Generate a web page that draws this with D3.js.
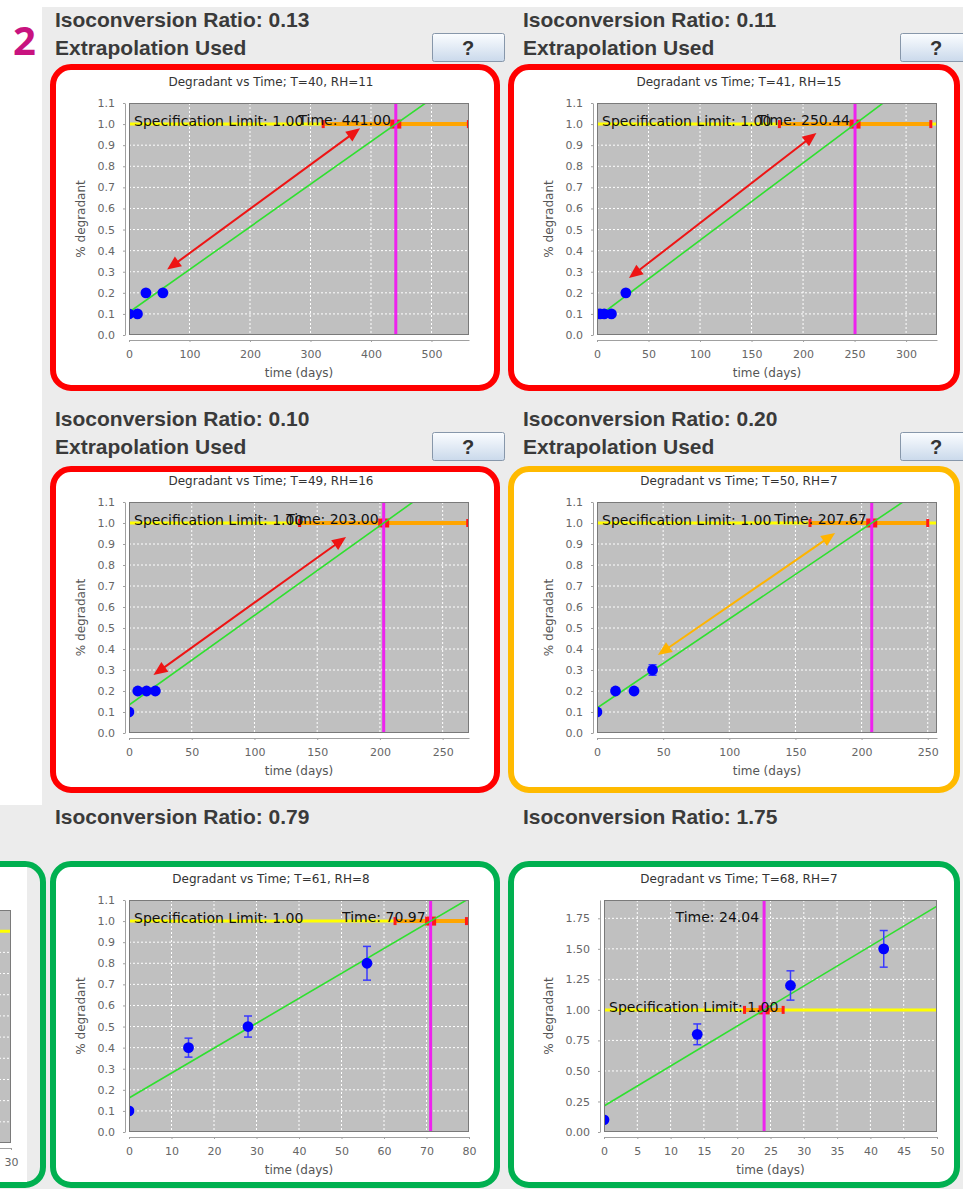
<!DOCTYPE html>
<html>
<head>
<meta charset="utf-8">
<script src="https://cdn.jsdelivr.net/npm/d3@7/dist/d3.min.js"></script>
<style>
  body { margin: 0; background: #fff; }
  svg { display: block; }
  .hdr { font: bold 21px "Liberation Sans", Arial, sans-serif; fill: #3a3a3a; }
  .btn-q { font: bold 20px "Liberation Sans", Arial, sans-serif; fill: #333; }
  .ttl { font: 12px "DejaVu Sans", sans-serif; fill: #333; }
  .axlbl { font: 12px "DejaVu Sans", sans-serif; fill: #555; }
  .tick text { font: 11px "DejaVu Sans", sans-serif; fill: #666; }
  .note { font: 14px "DejaVu Sans", sans-serif; fill: #111; }
  .badge { font: bold 40px "Open Sans", "Liberation Sans", sans-serif; fill: #c8137f; }
</style>
</head>
<body>
<svg id="chart" width="963" height="1189"></svg>
<script>
// ---- stability study results, one entry per storage condition ----
const panelTemps     = [40, 41, 49, 50, 61, 68];
const panelHumidity  = [11, 15, 16, 7, 8, 7];
const isoRatios      = ["0.13", "0.11", "0.10", "0.20", "0.79", "1.75"];
const extrapolationUsed = [true, true, true, true, false, false];
const riskLevels     = ["high", "high", "high", "medium", "low", "low"];

// measured degradant (% ) at each pull point, with error bars
const sampleDays = [
  [0, 14, 28, 56],
  [0, 3, 7, 14, 28],
  [0, 7, 14, 21],
  [0, 14, 28, 42],
  [0, 14, 28, 56],
  [0, 14, 28, 42]
];
const degradantPct = [
  [0.1, 0.1, 0.2, 0.2],
  [0.1, 0.1, 0.1, 0.1, 0.2],
  [0.1, 0.2, 0.2, 0.2],
  [0.1, 0.2, 0.2, 0.3],
  [0.1, 0.4, 0.5, 0.8],
  [0.1, 0.8, 1.2, 1.5]
];
const degradantErr = [
  [0, 0, 0, 0],
  [0, 0, 0, 0, 0],
  [0, 0, 0, 0],
  [0, 0, 0, 0.025],
  [0, 0.045, 0.05, 0.08],
  [0, 0.085, 0.12, 0.15]
];

// specification limit and the fitted time at which it is reached
const specLimit    = 1.0;
const timeToLimit  = [441.00, 250.44, 203.00, 207.67, 70.97, 24.04];
const timeLow      = [321, 177, 136, 161, 62.6, 21.1];
const timeHigh     = [561, 324, 270, 250, 79.4, 26.9];
const fitIntercept = [0.108, 0.083, 0.133, 0.119, 0.161, 0.213];

// axis ranges and tick spacing
const xMax      = [562, 330, 271, 257, 80, 50];
const yMax      = [1.1, 1.1, 1.1, 1.1, 1.1, 1.9];
const xTickStep = [100, 50, 50, 50, 10, 5];
const yTickStep = [0.1, 0.1, 0.1, 0.1, 0.1, 0.25];

// extrapolation arrows (days, % degradant): upper end and lower end
const arrowUpper = [[382, 0.98], [213, 0.958], [173, 0.933], [180, 0.952], null, null];
const arrowLower = [[63, 0.31], [31, 0.27], [19.5, 0.276], [46, 0.371], null, null];

// neighbouring chart, only its right edge is in view
const sideXMax = 30;
const sideYMax = 1.1;

// ---------------------------------------------------------------
const borderColors = { high: "#ff0000", medium: "#ffba00", low: "#00b050" };
const arrowColors  = { high: "#ee1414", medium: "#ffb400", low: "#00b050" };

const svg = d3.select("#chart");
svg.append("rect").attr("width", 963).attr("height", 1189).attr("fill", "#fff");
svg.append("rect").attr("x", 42).attr("y", 7).attr("width", 921).attr("height", 1182).attr("fill", "#ececec");
svg.append("rect").attr("x", 0).attr("y", 805).attr("width", 42).attr("height", 384).attr("fill", "#ececec");

const defs = svg.append("defs");
const grad = defs.append("linearGradient").attr("id", "btnGrad")
  .attr("x1", 0).attr("y1", 0).attr("x2", 0).attr("y2", 1);
grad.append("stop").attr("offset", "0%").attr("stop-color", "#fbfdff");
grad.append("stop").attr("offset", "100%").attr("stop-color", "#cad9eb");

svg.append("text").attr("class", "badge").attr("x", 13).attr("y", 55).text("2");

function rangeTicks(max, step) {
  const n = Math.floor(max / step + 1e-6);
  return d3.range(0, n + 1).map(k => +(k * step).toFixed(4));
}

function drawArrow(g, x1, y1, x2, y2, color) {
  const ang = Math.atan2(y2 - y1, x2 - x1);
  const ux = Math.cos(ang), uy = Math.sin(ang);
  const L = 14, hw = 6;
  g.append("line")
    .attr("x1", x1 + ux * L * 0.7).attr("y1", y1 + uy * L * 0.7)
    .attr("x2", x2 - ux * L * 0.7).attr("y2", y2 - uy * L * 0.7)
    .attr("stroke", color).attr("stroke-width", 2);
  const head = (tx, ty, dx, dy) => {
    const bx = tx - dx * L, by = ty - dy * L;
    return [[tx, ty], [bx - dy * hw, by + dx * hw], [bx + dy * hw, by - dx * hw]];
  };
  [head(x2, y2, ux, uy), head(x1, y1, -ux, -uy)].forEach(p => {
    g.append("polygon").attr("points", p.map(q => q.join(",")).join(" ")).attr("fill", color);
  });
}

function drawPanel(i) {
  const col = i % 2, row = Math.floor(i / 2);
  const rowOff = [0, 399, 797][row];
  const chartLeft = [50, 518][col];
  const bx = [50, 508][col], by = [64, 466, 861][row], bw = [450, 452][col], bh = 327;
  const g = svg.append("g");

  // panel frame
  g.append("rect").attr("x", bx + 3).attr("y", by + 3)
    .attr("width", bw - 6).attr("height", bh - 6).attr("rx", 18)
    .attr("fill", "#fff").attr("stroke", borderColors[riskLevels[i]]).attr("stroke-width", 6);

  // headings
  const hx = [55, 523][col];
  g.append("text").attr("class", "hdr").attr("x", hx).attr("y", 27 + rowOff)
    .text("Isoconversion Ratio: " + isoRatios[i]);
  if (extrapolationUsed[i]) {
    g.append("text").attr("class", "hdr").attr("x", hx).attr("y", 55 + rowOff).text("Extrapolation Used");
    const btnX = [432, 900][col], btnY = 33 + rowOff;
    g.append("rect").attr("x", btnX + 0.5).attr("y", btnY + 0.5).attr("width", 72).attr("height", 28)
      .attr("rx", 2).attr("fill", "url(#btnGrad)").attr("stroke", "#8797aa");
    g.append("text").attr("class", "btn-q").attr("x", btnX + 36).attr("y", btnY + 22)
      .attr("text-anchor", "middle").text("?");
  }

  // plot geometry and scales
  const wideLabels = yMax[i] > 1.5;
  const pl = chartLeft + 79 + (wideLabels ? 7 : 0), pr = chartLeft + 419;
  const pt = 103 + rowOff, pb = pt + (row === 1 ? 231 : 232);
  const x = d3.scaleLinear().domain([0, xMax[i]]).range([pl, pr]);
  const y = d3.scaleLinear().domain([0, yMax[i]]).range([pb, pt]);
  const xTicks = rangeTicks(xMax[i], xTickStep[i]);
  const yTicks = rangeTicks(yMax[i], yTickStep[i]);

  g.append("text").attr("class", "ttl").attr("x", chartLeft + 221).attr("y", pt - 17)
    .attr("text-anchor", "middle")
    .text(`Degradant vs Time; T=${panelTemps[i]}, RH=${panelHumidity[i]}`);

  defs.append("clipPath").attr("id", "clip" + i)
    .append("rect").attr("x", pl).attr("y", pt).attr("width", pr - pl).attr("height", pb - pt);

  g.append("rect").attr("x", pl).attr("y", pt).attr("width", pr - pl).attr("height", pb - pt).attr("fill", "#c0c0c0");

  const plot = g.append("g").attr("clip-path", `url(#clip${i})`);

  // dashed grid
  plot.selectAll(".gx").data(xTicks).join("line")
    .attr("x1", d => x(d)).attr("x2", d => x(d)).attr("y1", pt).attr("y2", pb)
    .attr("stroke", "#fff").attr("stroke-dasharray", "2,2").attr("stroke-width", 1);
  plot.selectAll(".gy").data(yTicks).join("line")
    .attr("x1", pl).attr("x2", pr).attr("y1", d => y(d)).attr("y2", d => y(d))
    .attr("stroke", "#fff").attr("stroke-dasharray", "2,2").attr("stroke-width", 1);

  // specification limit and confidence interval on the crossing time
  const t = timeToLimit[i];
  plot.append("line").attr("x1", pl).attr("x2", pr).attr("y1", y(specLimit)).attr("y2", y(specLimit))
    .attr("stroke", "#ffff00").attr("stroke-width", 3);
  plot.append("line").attr("x1", x(timeLow[i])).attr("x2", x(timeHigh[i]))
    .attr("y1", y(specLimit)).attr("y2", y(specLimit))
    .attr("stroke", "#ffa500").attr("stroke-width", 4);
  [timeLow[i], timeHigh[i]].forEach(v => {
    plot.append("rect").attr("x", x(v) - 1.5).attr("y", y(specLimit) - 4).attr("width", 3).attr("height", 8)
      .attr("fill", "#ff1a1a");
  });
  plot.append("rect").attr("x", x(t) - 5.5).attr("y", y(specLimit) - 4.5).attr("width", 11).attr("height", 9)
    .attr("fill", "#ff1a1a");
  plot.append("line").attr("x1", x(t)).attr("x2", x(t)).attr("y1", pt).attr("y2", pb)
    .attr("stroke", "#ee22ee").attr("stroke-width", 3);

  // fitted regression line, passing through the spec limit at time t
  const b = fitIntercept[i];
  const slope = (specLimit - b) / t;
  plot.append("line").attr("x1", x(0)).attr("y1", y(b))
    .attr("x2", x(xMax[i])).attr("y2", y(b + slope * xMax[i]))
    .attr("stroke", "#2fe02f").attr("stroke-width", 1.6);

  // extrapolation arrow
  if (arrowUpper[i]) {
    drawArrow(plot, x(arrowUpper[i][0]), y(arrowUpper[i][1]), x(arrowLower[i][0]), y(arrowLower[i][1]),
      arrowColors[riskLevels[i]]);
  }

  // measurements with error bars
  const pts = sampleDays[i].map((d, k) => ({ d, v: degradantPct[i][k], e: degradantErr[i][k] }));
  pts.filter(p => p.e > 0).forEach(p => {
    const cx = x(p.d);
    plot.append("line").attr("x1", cx).attr("x2", cx).attr("y1", y(p.v - p.e)).attr("y2", y(p.v + p.e))
      .attr("stroke", "#3a3aff").attr("stroke-width", 1.5);
    [p.v - p.e, p.v + p.e].forEach(v => {
      plot.append("line").attr("x1", cx - 4).attr("x2", cx + 4).attr("y1", y(v)).attr("y2", y(v))
        .attr("stroke", "#3a3aff").attr("stroke-width", 1.5);
    });
  });
  plot.selectAll(".pt").data(pts).join("circle")
    .attr("cx", p => x(p.d)).attr("cy", p => y(p.v)).attr("r", 5.4).attr("fill", "#0000ff");

  // annotations
  plot.append("text").attr("class", "note").attr("x", pl + 5).attr("y", y(specLimit) + 2)
    .text("Specification Limit: " + specLimit.toFixed(2));
  plot.append("text").attr("class", "note").attr("x", x(t) - 5).attr("y", pt + 22)
    .attr("text-anchor", "end").text("Time: " + d3.format(".2f")(t));

  g.append("rect").attr("x", pl + 0.5).attr("y", pt + 0.5).attr("width", pr - pl - 1).attr("height", pb - pt - 1)
    .attr("fill", "none").attr("stroke", "#7a7a7a").attr("stroke-width", 1);

  // axes
  const yFmt = d3.format(wideLabels ? ".2f" : ".1f");
  const ya = g.append("g").attr("class", "tick-axis").attr("transform", `translate(${pl - 4},0)`)
    .call(d3.axisLeft(y).tickValues(yTicks).tickFormat(yFmt).tickSize(2).tickSizeOuter(0).tickPadding(8));
  const xa = g.append("g").attr("transform", `translate(0,${pb + 5})`)
    .call(d3.axisBottom(x).tickValues(xTicks).tickFormat(d3.format("d")).tickSize(2).tickSizeOuter(0).tickPadding(8));
  [ya, xa].forEach(a => {
    a.select(".domain").attr("stroke", "#a0a0a0");
    a.selectAll(".tick line").attr("stroke", "#a0a0a0");
    a.selectAll(".tick text").attr("font-family", null).attr("font-size", null);
    a.attr("font-family", null).attr("font-size", null);
  });

  g.append("text").attr("class", "axlbl").attr("x", (pl + pr) / 2).attr("y", pb + 42)
    .attr("text-anchor", "middle").text("time (days)");
  g.append("text").attr("class", "axlbl")
    .attr("transform", `translate(${chartLeft + 35},${(pt + pb) / 2}) rotate(-90)`)
    .attr("text-anchor", "middle").text("% degradant");
}

for (let i = 0; i < 6; i++) drawPanel(i);

// neighbouring chart at the left edge of the bottom row
(function drawSidePanel() {
  const g = svg.append("g");
  g.append("rect").attr("x", -417).attr("y", 864).attr("width", 460).attr("height", 321).attr("rx", 18)
    .attr("fill", "#ececec").attr("stroke", borderColors.low).attr("stroke-width", 6);
  g.append("rect").attr("x", 0).attr("y", 867).attr("width", 27).attr("height", 315).attr("fill", "#fff");
  const pl = -329, pr = 11, pt = 910, pb = 1143;
  const x = d3.scaleLinear().domain([0, sideXMax]).range([pl, pr]);
  const y = d3.scaleLinear().domain([0, sideYMax]).range([pb, pt]);
  g.append("rect").attr("x", pl).attr("y", pt).attr("width", pr - pl).attr("height", pb - pt).attr("fill", "#c0c0c0");
  g.selectAll(".gy").data(rangeTicks(sideYMax, 0.1)).join("line")
    .attr("x1", pl).attr("x2", pr).attr("y1", d => y(d)).attr("y2", d => y(d))
    .attr("stroke", "#fff").attr("stroke-dasharray", "2,2");
  g.append("line").attr("x1", pl).attr("x2", pr).attr("y1", y(specLimit)).attr("y2", y(specLimit))
    .attr("stroke", "#ffff00").attr("stroke-width", 3);
  g.append("rect").attr("x", pl + 0.5).attr("y", pt + 0.5).attr("width", pr - pl - 1).attr("height", pb - pt - 1)
    .attr("fill", "none").attr("stroke", "#7a7a7a");
  const xa = g.append("g").attr("transform", `translate(0,${pb + 5})`)
    .call(d3.axisBottom(x).tickValues([sideXMax]).tickFormat(d3.format("d")).tickSize(2).tickSizeOuter(0).tickPadding(8));
  xa.select(".domain").attr("stroke", "#a0a0a0");
  xa.selectAll(".tick line").attr("stroke", "#a0a0a0");
  xa.attr("font-family", null).attr("font-size", null);
})();
</script>
</body>
</html>
